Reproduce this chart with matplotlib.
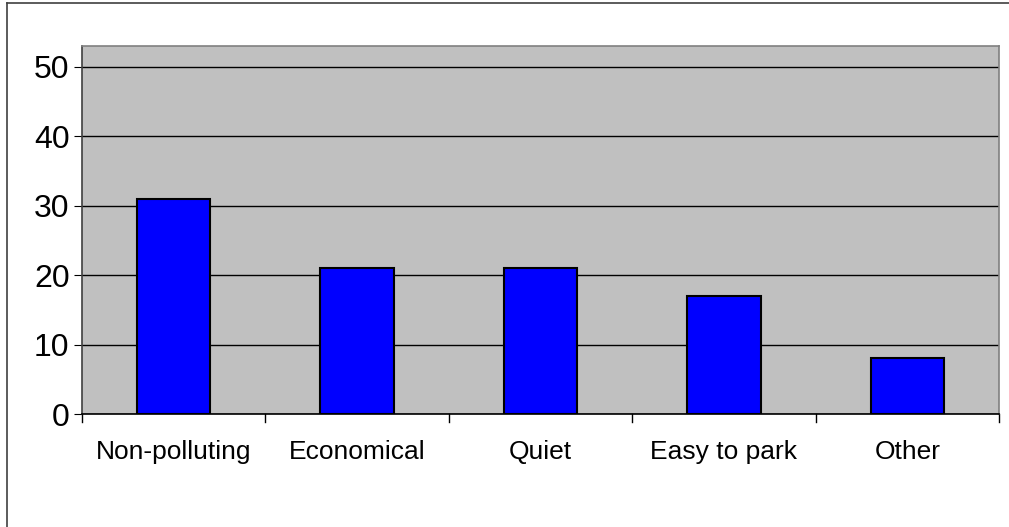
import numpy as np
import matplotlib.pyplot as plt
from matplotlib.lines import Line2D

plt.rcParams['font.family'] = ['Liberation Sans', 'DejaVu Sans']

categories = ['Non-polluting', 'Economical', 'Quiet', 'Easy to park', 'Other']
counts = [31, 21, 21, 17, 8]
yticks = [0, 10, 20, 30, 40, 50]

fig = plt.figure(figsize=(10.09, 5.27), dpi=100)
W, H = 1009, 527
ax = fig.add_axes([82 / W, 1 - 414 / H, (999 - 82) / W, (414 - 46) / H])
ax.set_facecolor('#c0c0c0')

x = np.arange(len(categories))
ax.bar(x, counts, width=0.4, color='#0000ff', edgecolor='black', linewidth=1.5, zorder=3)

ax.set_xlim(-0.5, len(categories) - 0.5)
ax.set_ylim(0, 53)
ax.set_yticks(yticks)
ax.tick_params(axis='y', labelsize=23, length=6, direction='out', pad=3)
ax.yaxis.grid(True, color='black', linewidth=1)
ax.set_axisbelow(True)

# category labels in the middle, ticks on the boundaries
ax.set_xticks(x)
ax.set_xticklabels(categories, fontsize=19)
ax.tick_params(axis='x', length=0, pad=19)
for b in np.arange(-0.5, len(categories), 1.0):
    ax.add_line(Line2D([b, b], [0, -0.022], transform=ax.get_xaxis_transform(),
                       color='black', linewidth=1, clip_on=False))

ax.spines['top'].set_color('#808080')
ax.spines['right'].set_color('#808080')
ax.spines['left'].set_color('#404040')
ax.spines['bottom'].set_color('black')
for s in ax.spines.values():
    s.set_linewidth(1.2)

# outer frame (top and left edges)
fig.add_artist(Line2D([7 / W, 1], [1 - 3 / H, 1 - 3 / H], color='#404040', linewidth=1.2))
fig.add_artist(Line2D([7 / W, 7 / W], [0, 1 - 3 / H], color='#404040', linewidth=1.2))

fig.savefig('out.png', dpi=100)
